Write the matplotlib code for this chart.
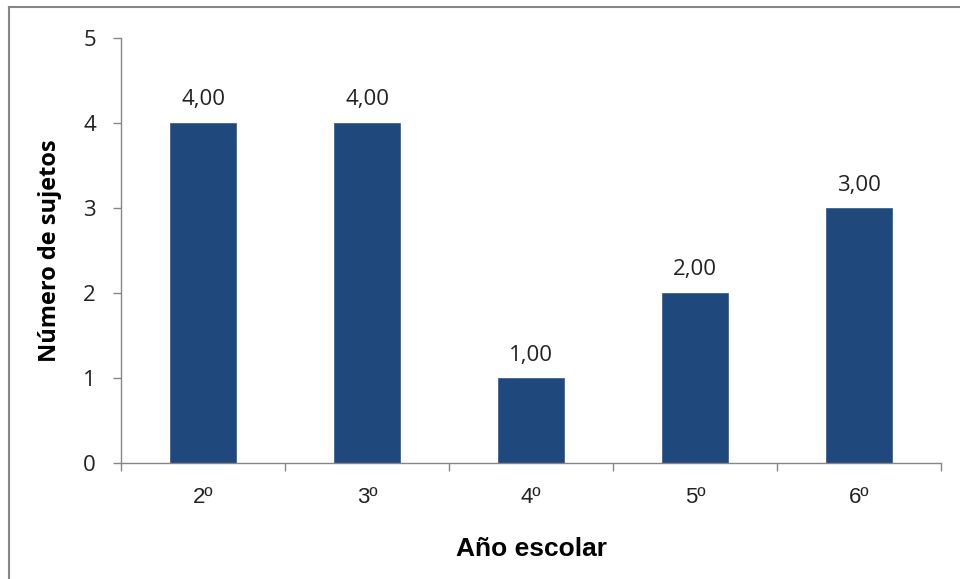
import matplotlib.pyplot as plt
from matplotlib.lines import Line2D

# datos
cursos = ["2º", "3º", "4º", "5º", "6º"]
sujetos = [4, 4, 1, 2, 3]
etiquetas = ["4,00", "4,00", "1,00", "2,00", "3,00"]

gris = "#868686"
azul = "#1F497D"
fuente = "Open Sans"

fig = plt.figure(figsize=(9.6, 5.79), dpi=100)
ax = fig.add_axes([121/960, 1 - 463/579, 820/960, 425/579])

x = range(len(cursos))
barras = ax.bar(x, sujetos, width=0.40, color=azul, edgecolor="#3d6494", linewidth=0.6)

for b, txt in zip(barras, etiquetas):
    ax.annotate(txt, (b.get_x() + b.get_width()/2, b.get_height()),
                xytext=(0, 9), textcoords="offset points",
                ha="center", va="bottom", fontsize=16, family=fuente, color="#222222")

ax.set_xlim(-0.5, len(cursos) - 0.5)
ax.set_ylim(0, 5)
ax.set_yticks(range(6))
ax.set_xticks([i - 0.5 for i in range(len(cursos) + 1)], minor=False)
ax.set_xticklabels([])
ax.set_xticks(list(x), minor=True)
ax.set_xticklabels(cursos, minor=True)
ax.tick_params(axis="x", which="minor", length=0, pad=17, labelsize=16)
ax.tick_params(axis="x", which="major", length=6, width=1, color=gris, direction="out")
ax.tick_params(axis="y", length=6, width=1, color=gris, direction="out", pad=12, labelsize=16)
for lab in ax.get_yticklabels():
    lab.set_family(fuente)
    lab.set_color("#222222")
# el ordinal º subrayado
for lab in ax.get_xticklabels(minor=True):
    lab.set_family("Liberation Sans")
    lab.set_color("#222222")

for s in ["top", "right"]:
    ax.spines[s].set_visible(False)
for s in ["left", "bottom"]:
    ax.spines[s].set_color(gris)
    ax.spines[s].set_linewidth(1)

ax.set_xlabel("Año escolar", fontsize=19, fontweight="bold", family="Liberation Sans")
ax.xaxis.set_label_coords(0.5, -0.174)
ax.set_ylabel("Número de sujetos", fontsize=17, fontweight="bold", family=fuente)
ax.yaxis.set_label_coords(-0.072, 0.5)

# marco del gráfico (solo borde izquierdo y superior)
fig.add_artist(Line2D([9/960, 9/960], [0, 1 - 7/579], color=gris, lw=1.5, transform=fig.transFigure))
fig.add_artist(Line2D([9/960, 1], [1 - 7/579, 1 - 7/579], color=gris, lw=1.5, transform=fig.transFigure))

fig.savefig("out.png", dpi=100)
